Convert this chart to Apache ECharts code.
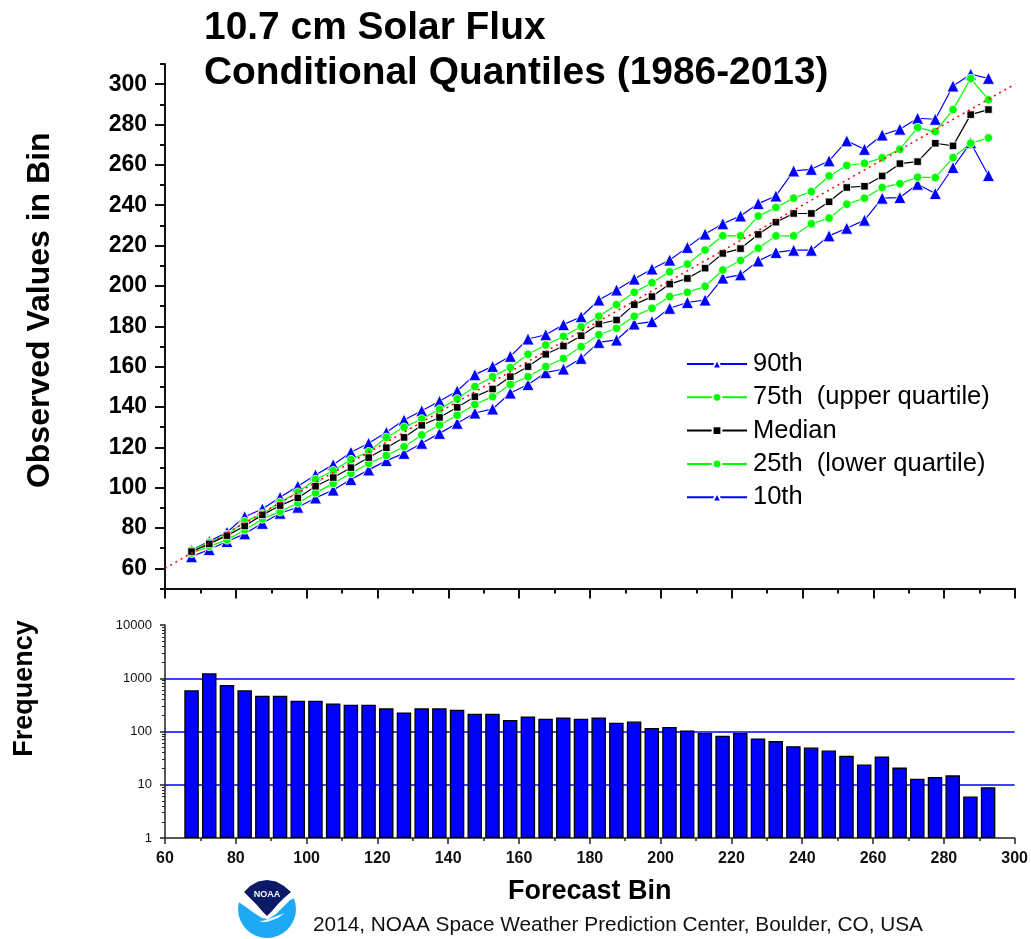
<!DOCTYPE html>
<html>
<head>
<meta charset="utf-8">
<title>10.7 cm Solar Flux</title>
<style>
  html, body { margin: 0; padding: 0; background: #fff; }
  #chart { width: 1031px; height: 939px; }
</style>
<script src="https://cdn.jsdelivr.net/npm/echarts@6/dist/echarts.min.js"></script>
</head>
<body>
<div id="chart"></div>
<script>
var bins = [67.5, 72.5, 77.5, 82.5, 87.5, 92.5, 97.5, 102.5, 107.5, 112.5, 117.5, 122.5, 127.5, 132.5, 137.5, 142.5,
  147.5, 152.5, 157.5, 162.5, 167.5, 172.5, 177.5, 182.5, 187.5, 192.5, 197.5, 202.5, 207.5, 212.5, 217.5, 222.5,
  227.5, 232.5, 237.5, 242.5, 247.5, 252.5, 257.5, 262.5, 267.5, 272.5, 277.5, 282.5, 287.5, 292.5];

var p90 = [69.1, 73.4, 77.9, 85.6, 89.4, 95.2, 100.7, 106.3, 111.4, 117.5, 122, 127.4, 133.5, 138.1, 142.8, 147.9,
  156, 160.1, 165.1, 173.7, 175.8, 180.8, 184.7, 193, 198, 203.4, 208.4, 212.8, 219.1, 225.7, 230.8, 234.7,
  240.8, 244.6, 257, 257.8, 262, 271.9, 267.7, 274.8, 277.7, 283.1, 282.6, 299.1, 304.9, 302.9];
var p75 = [69, 72.9, 76.7, 83.2, 87, 92.7, 97.7, 104, 108.4, 113.9, 117.8, 124.9, 129.9, 134, 138.9, 144,
  150.1, 155, 159.6, 166.1, 170.7, 175, 179.8, 184.9, 190.7, 196.8, 201.6, 207, 210.8, 217.8, 224.9, 224.8,
  234.6, 238.9, 243.5, 246.8, 254.5, 259.7, 260.8, 263.5, 267.7, 278.5, 276.5, 287.4, 302.8, 292.3];
var median = [68.3, 72.1, 76.2, 81, 86.5, 91.1, 94.9, 100.7, 105, 109.9, 114.9, 119.8, 124.9, 130.9, 134.8, 139.8,
  145.1, 148.9, 155, 160, 166.1, 170.2, 175.3, 181.1, 183.1, 190.7, 194.7, 200.9, 203.7, 208.8, 216.1, 218.5,
  225.5, 231.6, 235.9, 235.9, 241.7, 248.8, 249.4, 254.5, 260.6, 261.6, 270.7, 269.4, 284.9, 287.4];
var p25 = [67.5, 70.9, 74.1, 79, 84.5, 88.1, 92.4, 97.4, 102.1, 107.1, 112, 115.9, 120.3, 126.1, 131, 135.9,
  141.2, 145.1, 151.1, 155, 160, 164, 169.9, 175.8, 179, 184.9, 188.9, 194.7, 196.8, 199.8, 207.9, 212.6,
  218.7, 224.8, 224.8, 230.8, 233.6, 240.5, 243.5, 248.8, 250.7, 253.9, 253.7, 263.6, 270.7, 273.4];
var p10 = [65.8, 69.3, 73.3, 77.1, 82.3, 87.3, 90.3, 94.9, 98.8, 104, 108.8, 113.4, 117, 122, 126.9, 131.9,
  137, 139, 146.9, 151.1, 157, 158.8, 164.1, 172, 173.2, 181.1, 182.3, 188.9, 191.8, 193, 203.9, 205.5,
  212.4, 216.6, 217.7, 217.7, 224.8, 228.6, 232.6, 243.5, 243.8, 250.4, 245.8, 258.7, 271, 254.7];
var frequency = [594, 1242, 748, 594, 471, 471, 379, 379, 337, 318, 318, 272, 228, 272, 272, 256,
  215, 215, 164, 192, 173, 184, 173, 184, 146, 154, 116, 122, 104, 94, 83, 94,
  74, 66, 53, 50, 44, 35, 24, 34, 21, 13, 14, 15, 6, 9];
var perfect = [[60, 60], [300, 300]];

var obsTicks = [60, 80, 100, 120, 140, 160, 180, 200, 220, 240, 260, 280, 300];
var obsMinorTicks = [50, 70, 90, 110, 130, 150, 170, 190, 210, 230, 250, 270, 290, 310];
var freqTicks = [1, 10, 100, 1000, 10000];
var freqMinorTicks = [2, 3, 4, 5, 6, 7, 8, 9, 20, 30, 40, 50, 60, 70, 80, 90, 200, 300, 400, 500, 600, 700, 800, 900,
  2000, 3000, 4000, 5000, 6000, 7000, 8000, 9000];

var FONT = '"Liberation Sans", Arial, sans-serif';

function pairs(values) {
  return values.map(function (v, i) { return [bins[i], v]; });
}

function quantileSeries(name, values, color, symbol, size, z) {
  return {
    name: name,
    type: 'line',
    xAxisIndex: 0,
    yAxisIndex: 0,
    z: z,
    data: pairs(values),
    symbol: symbol,
    symbolSize: size,
    showSymbol: true,
    lineStyle: { color: color, width: 1.2 },
    itemStyle: { color: color, borderColor: '#fff', borderWidth: 0.8 }
  };
}

var option = {
  animation: false,
  backgroundColor: '#fff',
  title: [
    {
      text: '10.7 cm Solar Flux\nConditional Quantiles (1986-2013)',
      left: 199,
      top: 1,
      textStyle: { fontFamily: FONT, fontSize: 38.9, fontWeight: 'bold', color: '#000', lineHeight: 45 }
    },
    {
      text: '2014, NOAA Space Weather Prediction Center, Boulder, CO, USA',
      left: 308,
      top: 910,
      textStyle: { fontFamily: FONT, fontSize: 20.8, fontWeight: 'normal', color: '#111' }
    }
  ],
  legend: {
    data: ['90th', '75th  (upper quartile)', 'Median', '25th  (lower quartile)', '10th'],
    orient: 'vertical',
    left: 686,
    top: 351,
    padding: 0,
    itemWidth: 60,
    itemHeight: 11,
    itemGap: 7.3,
    textStyle: { fontFamily: FONT, fontSize: 25.5, color: '#000', padding: [0, 0, 0, 1] }
  },
  grid: [
    { left: 165, top: 64, width: 850, height: 524.5 },
    { left: 165, top: 625, width: 850, height: 213 }
  ],
  xAxis: [
    {
      gridIndex: 0, type: 'value', min: 60, max: 300, interval: 20,
      axisLine: { lineStyle: { color: '#111', width: 2 } },
      axisTick: { show: true, length: 10, lineStyle: { color: '#111', width: 2 } },
      minorTick: { show: true, splitNumber: 2, length: 5, lineStyle: { color: '#111', width: 2 } },
      axisLabel: { show: false },
      splitLine: { show: false }
    },
    {
      gridIndex: 1, type: 'value', min: 60, max: 300, interval: 20,
      name: 'Forecast Bin',
      nameLocation: 'middle',
      nameGap: 40,
      nameTextStyle: { fontFamily: FONT, fontSize: 27, fontWeight: 'bold', color: '#000' },
      axisLine: { lineStyle: { color: '#222', width: 1.5 } },
      axisTick: { show: true, length: 6, lineStyle: { color: '#222', width: 1.5 } },
      minorTick: { show: true, splitNumber: 2, length: 3, lineStyle: { color: '#222', width: 1.5 } },
      axisLabel: { fontFamily: FONT, fontSize: 16, fontWeight: 'bold', color: '#111', margin: 13, hideOverlap: false },
      splitLine: { show: false }
    }
  ],
  yAxis: [
    {
      gridIndex: 0, type: 'value', min: 50, max: 310,
      name: 'Observed Values in Bin',
      nameLocation: 'middle',
      nameGap: 109,
      nameRotate: 90,
      nameTextStyle: { fontFamily: FONT, fontSize: 32, fontWeight: 'bold', color: '#000', padding: [0, 0, 0, 32] },
      axisLine: { show: true, lineStyle: { color: '#111', width: 2 } },
      axisTick: { show: true, length: 10, customValues: obsTicks, lineStyle: { color: '#111', width: 2 } },
      axisLabel: { customValues: obsTicks, fontFamily: FONT, fontSize: 23, fontWeight: 'bold', color: '#000', margin: 18 },
      splitLine: { show: false }
    },
    {
      gridIndex: 0, type: 'value', min: 50, max: 310, position: 'left',
      axisLine: { show: false },
      axisTick: { show: true, length: 5, customValues: obsMinorTicks, lineStyle: { color: '#111', width: 2 } },
      axisLabel: { show: false },
      splitLine: { show: false }
    },
    {
      gridIndex: 1, type: 'log', logBase: 10, min: 1, max: 10000,
      name: 'Frequency',
      nameLocation: 'middle',
      nameGap: 127,
      nameRotate: 90,
      nameTextStyle: { fontFamily: FONT, fontSize: 27, fontWeight: 'bold', color: '#000', padding: [0, 0, 0, 86] },
      axisLine: { show: true, lineStyle: { color: '#222', width: 1.5 } },
      axisTick: { show: true, length: 5, customValues: freqTicks, lineStyle: { color: '#222', width: 1.5 } },
      axisLabel: {
        customValues: freqTicks,
        formatter: function (v) { return String(v); },
        fontFamily: FONT, fontSize: 13, fontWeight: 'normal', color: '#111', margin: 13
      },
      splitLine: { show: true, showMinLine: false, showMaxLine: false, lineStyle: { color: '#0000ff', width: 1.5 } }
    },
    {
      gridIndex: 1, type: 'log', logBase: 10, min: 1, max: 10000, position: 'left',
      axisLine: { show: false },
      axisTick: { show: true, length: 3, customValues: freqMinorTicks, lineStyle: { color: '#222', width: 1 } },
      axisLabel: { show: false },
      splitLine: { show: false }
    }
  ],
  series: [
    quantileSeries('90th', p90, '#0000ff', 'triangle', 12, 2),
    quantileSeries('10th', p10, '#0000ff', 'triangle', 12, 2),
    quantileSeries('75th  (upper quartile)', p75, '#00ff00', 'circle', 8.5, 3),
    quantileSeries('25th  (lower quartile)', p25, '#00ff00', 'circle', 8.5, 3),
    quantileSeries('Median', median, '#000000', 'rect', 7.5, 4),
    {
      name: 'perfect',
      type: 'line',
      xAxisIndex: 0,
      yAxisIndex: 0,
      data: perfect,
      symbol: 'none',
      z: 5,
      lineStyle: { color: '#ff0000', width: 1.5, type: [2, 4] }
    },
    {
      name: 'Frequency',
      type: 'bar',
      xAxisIndex: 1,
      yAxisIndex: 2,
      data: pairs(frequency),
      barWidth: 14.5,
      itemStyle: { color: '#0000ff', borderColor: '#000', borderWidth: 1.3 }
    }
  ],
  graphic: [
    {
      // NOAA logo
      type: 'group',
      x: 238,
      y: 880,
      silent: true,
      children: [
        { type: 'circle', shape: { cx: 29, cy: 29, r: 29 }, style: { fill: '#1ea9f4' } },
        { type: 'polygon', shape: { points: [[-1, -1], [59, -1], [59, 17], [52, 20], [46, 26], [38, 34], [30, 39], [24, 38], [16, 33], [8, 27], [-1, 21]] }, style: { fill: '#fff' } },
        { type: 'polygon', shape: { points: [[6, 12], [12, 6], [20, 1.5], [29, 0], [38, 1.5], [46, 6], [53, 12], [46, 18], [40, 24], [34, 31], [29, 36], [24, 31], [18, 24], [12, 18]] }, style: { fill: '#0a1a66' } },
        { type: 'polygon', shape: { points: [[21, 42], [36, 37], [47, 33], [40, 38], [29, 42]] }, style: { fill: '#e6f6ff' } },
        { type: 'text', style: { text: 'NOAA', x: 29, y: 15, align: 'center', verticalAlign: 'middle', font: 'bold 9px "Liberation Sans"', fill: '#fff' } }
      ]
    }
  ]
};

var myChart = echarts.init(document.getElementById('chart'));
myChart.setOption(option);
</script>
</body>
</html>
